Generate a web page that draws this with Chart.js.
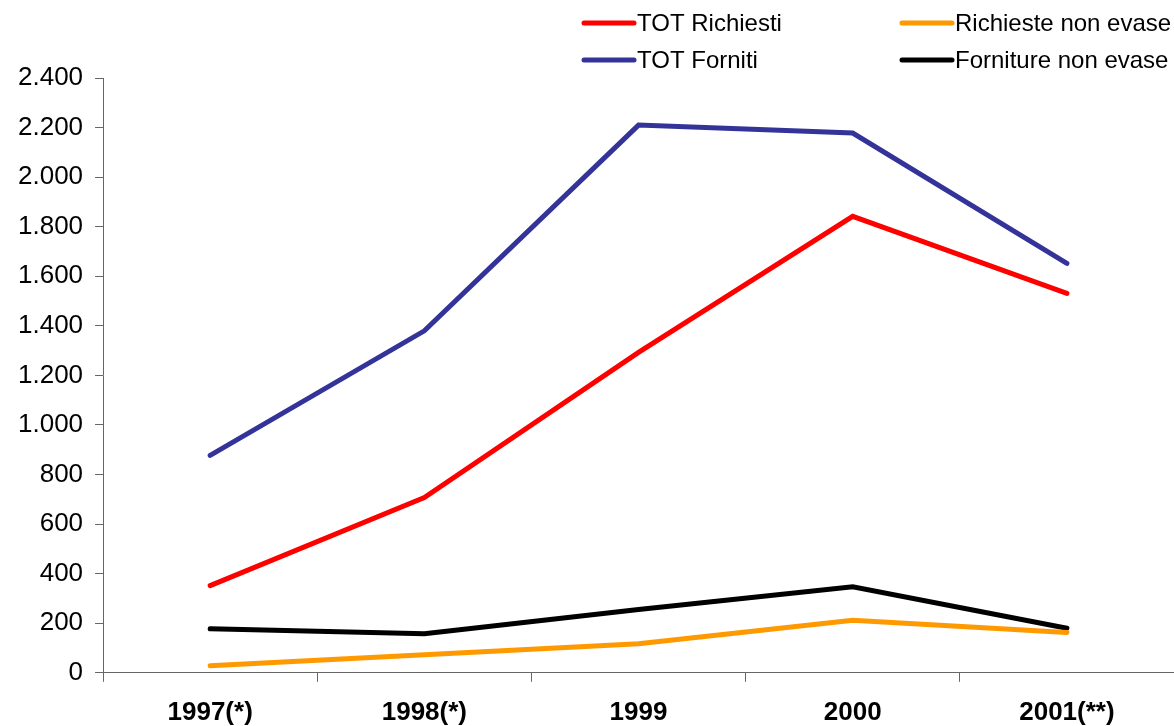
<!DOCTYPE html>
<html>
<head>
<meta charset="utf-8">
<script src="https://cdn.jsdelivr.net/npm/chart.js@4"></script>
<style>
  html, body { margin: 0; padding: 0; background: #fff; }
  #wrap { width: 1174px; height: 726px; }
</style>
</head>
<body>
<div id="wrap"><canvas id="chart"></canvas></div>
<script>
// ===============================
// DATA
// ===============================
const years = ["1997(*)", "1998(*)", "1999", "2000", "2001(**)"];

const totRichiesti = [352, 707, 1293, 1842, 1531];
const totForniti = [877, 1380, 2210, 2178, 1652];
const richiesteNonEvase = [28, 73, 117, 212, 163];
const fornitureNonEvase = [178, 158, 255, 347, 180];

const yTicks = [0, 200, 400, 600, 800, 1000, 1200, 1400, 1600, 1800, 2000, 2200, 2400];

// thousands with a dot, like 2.400
function fmt(v){
  return String(v).replace(/\B(?=(\d{3})+(?!\d))/g, ".");
}

// ===============================
// LEGEND IN TWO COLUMNS
// ===============================
const twoColLegend = {
  id: "twoColLegend",
  afterDraw(chart){
    const ctx = chart.ctx;
    const cols = [582, 900];
    const rows = [23, 60];
    ctx.save();
    ctx.font = "24px 'Liberation Sans', Arial, sans-serif";
    ctx.textBaseline = "middle";
    ctx.fillStyle = "#000";
    chart.data.datasets.forEach((ds, i) => {
      const x = cols[Math.floor(i / 2)];
      const y = rows[i % 2];
      ctx.strokeStyle = ds.borderColor;
      ctx.lineWidth = 5;
      ctx.lineCap = "round";
      ctx.beginPath();
      ctx.moveTo(x + 2, y);
      ctx.lineTo(x + 52, y);
      ctx.stroke();
      ctx.fillText(ds.label, x + 55, y + 1);
    });
    ctx.restore();
  }
};

const axisColor = "#666";

new Chart(document.getElementById("chart"), {
  type: "line",
  data: {
    labels: years,
    datasets: [
      { label: "TOT Richiesti", data: totRichiesti, borderColor: "#ff0000" },
      { label: "TOT Forniti", data: totForniti, borderColor: "#333399" },
      { label: "Richieste non evase", data: richiesteNonEvase, borderColor: "#ff9900" },
      { label: "Forniture non evase", data: fornitureNonEvase, borderColor: "#000000" }
    ].map(d => Object.assign(d, {
      borderWidth: 5,
      pointRadius: 0,
      tension: 0,
      fill: false,
      borderCapStyle: "round",
      borderJoinStyle: "miter"
    }))
  },
  options: {
    responsive: true,
    maintainAspectRatio: false,
    animation: false,
    layout: { padding: { top: 78, left: 6, right: 0, bottom: -17 } },
    plugins: {
      legend: { display: false },
      tooltip: { enabled: false }
    },
    scales: {
      x: {
        offset: true,
        grid: {
          offset: true,
          drawOnChartArea: false,
          drawTicks: true,
          tickLength: 9,
          color: axisColor
        },
        border: { display: true, color: axisColor, width: 1 },
        ticks: {
          color: "#000",
          padding: 15,
          maxRotation: 0,
          font: { family: "'Liberation Sans', Arial, sans-serif", size: 26, weight: "bold" }
        }
      },
      y: {
        min: 0,
        max: 2400,
        afterBuildTicks(scale){
          scale.ticks = yTicks.map(v => ({ value: v }));
        },
        grid: {
          drawOnChartArea: false,
          drawTicks: true,
          tickLength: 8,
          color: axisColor
        },
        border: { display: true, color: axisColor, width: 1 },
        ticks: {
          color: "#000",
          padding: 12,
          callback: v => fmt(v),
          font: { family: "'Liberation Sans', Arial, sans-serif", size: 26 }
        }
      }
    }
  },
  plugins: [twoColLegend]
});
</script>
</body>
</html>
